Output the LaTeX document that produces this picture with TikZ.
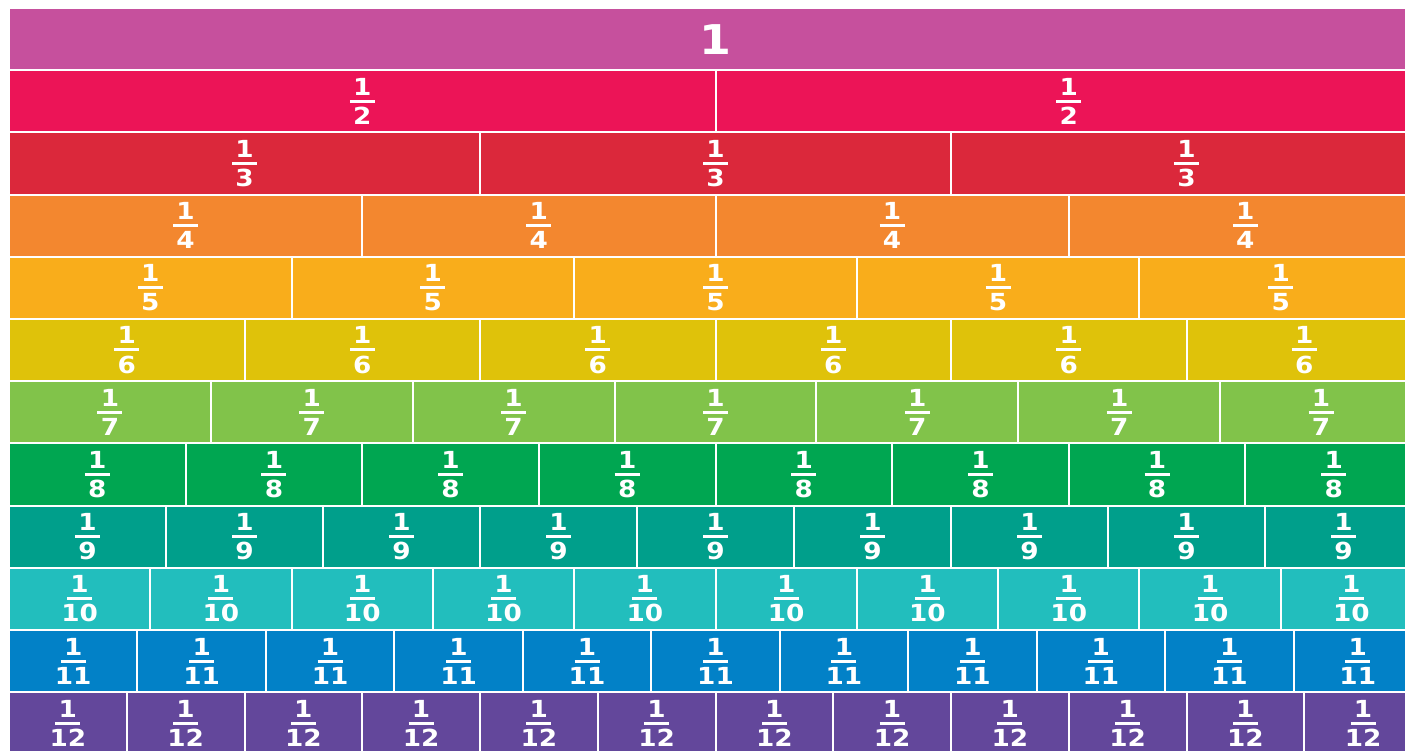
\documentclass[tikz,border=0pt]{standalone}
\usepackage{fontspec}
\setmainfont{DejaVu Sans}[FakeStretch=1.12]
\usetikzlibrary{positioning}

\definecolor{cwhole}{HTML}{C6509D}
\definecolor{chalf}{HTML}{EC1457}
\definecolor{cthird}{HTML}{DB283B}
\definecolor{cfourth}{HTML}{F3872F}
\definecolor{cfifth}{HTML}{F9AD1B}
\definecolor{csixth}{HTML}{DFC20A}
\definecolor{cseventh}{HTML}{81C34A}
\definecolor{ceighth}{HTML}{00A651}
\definecolor{cninth}{HTML}{009F8B}
\definecolor{ctenth}{HTML}{22BEBD}
\definecolor{celeventh}{HTML}{0281C7}
\definecolor{ctwelfth}{HTML}{63479B}

% unit fraction: 1 over a bar over the denominator
\newcommand\unitfrac[1]{\vbox{\offinterlineskip
  \hbox to 34pt{\hss 1\hss}\kern4.5pt
  \hbox to 34pt{\hss\rule{25pt}{2.8pt}\hss}\kern4.5pt
  \hbox to 34pt{\hss #1\hss}}}

\begin{document}
\begin{tikzpicture}[x=1pt,y=-1pt,
   cell/.style={draw=white, line width=2pt, inner sep=0pt, outer sep=0pt,
     text=white, minimum height=62.2pt, anchor=north west,
     font=\bfseries\fontsize{23.5}{23.5}\selectfont}]
   \useasboundingbox (0,0) rectangle (1405,751);
   \clip (0,0) rectangle (1405,751);
   \node[cell, fill=cwhole, minimum width=1413pt,
     font=\bfseries\fontsize{41}{41}\selectfont] (whole) at (9,8) {1};
   \foreach \n/\c [count=\i from 1] in {2/chalf,3/cthird,4/cfourth,5/cfifth,
       6/csixth,7/cseventh,8/ceighth,9/cninth,10/ctenth,11/celeventh,12/ctwelfth} {
     \pgfmathsetmacro\w{1413/\n}
     \foreach \k in {1,...,\n} {
       \node[cell, fill=\c, minimum width=\w pt]
         (f\n-\k) at ({9+(\k-1)*\w},{8+\i*62.2}) {\unitfrac{\n}};
     }
   }
\end{tikzpicture}
\end{document}
